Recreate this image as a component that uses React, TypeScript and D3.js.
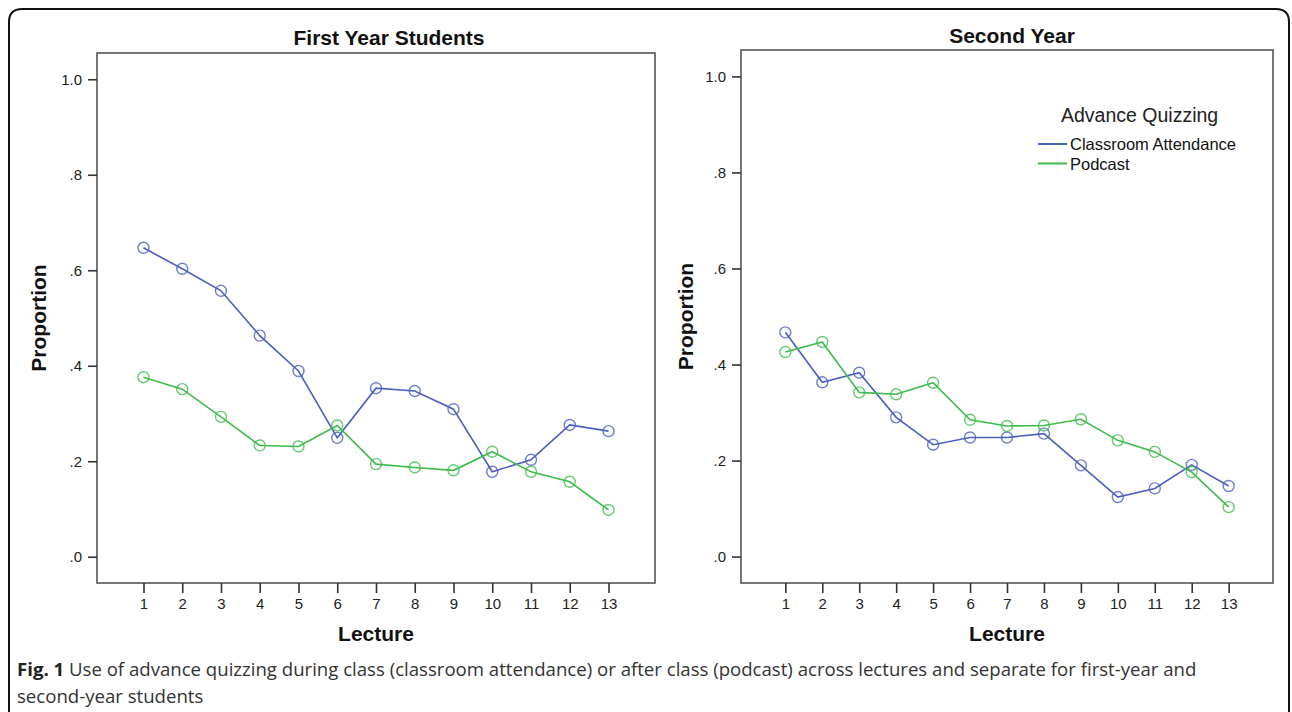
import { useEffect, useRef } from "react";
import * as d3 from "d3";

// lecture numbers on the x axis
const lectures = [1, 2, 3, 4, 5, 6, 7, 8, 9, 10, 11, 12, 13];

// proportions
const firstYearClassroom = [0.647, 0.603, 0.557, 0.463, 0.389, 0.249, 0.353, 0.347, 0.309, 0.178, 0.203, 0.276, 0.263];
const firstYearPodcast = [0.376, 0.351, 0.293, 0.233, 0.231, 0.275, 0.194, 0.187, 0.181, 0.22, 0.178, 0.157, 0.098];
const secondYearClassroom = [0.467, 0.363, 0.383, 0.29, 0.233, 0.248, 0.248, 0.256, 0.19, 0.124, 0.142, 0.191, 0.147];
const secondYearPodcast = [0.426, 0.447, 0.342, 0.338, 0.362, 0.285, 0.272, 0.273, 0.286, 0.242, 0.218, 0.176, 0.103];

const yTicks = [0, 0.2, 0.4, 0.6, 0.8, 1.0];
const yTickLabels = [".0", ".2", ".4", ".6", ".8", "1.0"];

const seriesNames = ["Classroom Attendance", "Podcast"];
const legendTitle = "Advance Quizzing";

const BLUE = "#4b5fbf";
const GREEN = "#3dbb4b";
const FONT = "'Liberation Sans', Arial, sans-serif";

export default function App() {
  const ref = useRef<SVGSVGElement>(null);

  useEffect(() => {
    if (!ref.current) return;
    const svg = d3.select(ref.current);
    svg.selectAll("*").remove();

    // outer frame of the figure
    svg
      .append("path")
      .attr("d", "M9,740 L9,22 Q9,9 22,9 L1276,9 Q1289,9 1289,22 L1289,740")
      .attr("fill", "none")
      .attr("stroke", "#111")
      .attr("stroke-width", 2);

    const panels = [
      {
        title: "First Year Students",
        left: 97, right: 655, top: 53, bottom: 583,
        titleX: 389, titleY: 45, propX: 45.5,
        classroom: firstYearClassroom, podcast: firstYearPodcast,
        legend: false,
      },
      {
        title: "Second Year",
        left: 741, right: 1273, top: 50, bottom: 583,
        titleX: 1012, titleY: 43, propX: 692.5,
        classroom: secondYearClassroom, podcast: secondYearPodcast,
        legend: true,
      },
    ];

    panels.forEach((p) => {
      const g = svg.append("g");

      const x = d3.scaleLinear().domain([-0.2, 14.2]).range([p.left, p.right]);
      const y = d3.scaleLinear().domain([-0.055, 1.055]).range([p.bottom, p.top]);

      // title
      g.append("text")
        .attr("x", p.titleX)
        .attr("y", p.titleY)
        .attr("text-anchor", "middle")
        .style("font-family", FONT)
        .style("font-size", "21px")
        .style("font-weight", "bold")
        .style("fill", "#111")
        .text(p.title);

      // plot frame
      g.append("rect")
        .attr("x", p.left)
        .attr("y", p.top)
        .attr("width", p.right - p.left)
        .attr("height", p.bottom - p.top)
        .attr("fill", "#fff")
        .attr("stroke", "#555")
        .attr("stroke-width", 1.6);

      // y axis ticks
      const yAxis = g
        .append("g")
        .attr("transform", `translate(${p.left},0)`)
        .call(
          d3
            .axisLeft(y)
            .tickValues(yTicks)
            .tickSize(9)
            .tickPadding(6)
            .tickFormat((_, i) => yTickLabels[i])
        );
      yAxis.select(".domain").remove();
      yAxis.selectAll("line").attr("stroke", "#333").attr("stroke-width", 1.6);
      yAxis
        .selectAll("text")
        .style("font-family", FONT)
        .style("font-size", "15px")
        .style("fill", "#222");

      // x axis ticks
      const xAxis = g
        .append("g")
        .attr("transform", `translate(0,${p.bottom})`)
        .call(
          d3
            .axisBottom(x)
            .tickValues(lectures)
            .tickSize(10)
            .tickPadding(5)
            .tickFormat(d3.format("d"))
        );
      xAxis.select(".domain").remove();
      xAxis.selectAll("line").attr("stroke", "#333").attr("stroke-width", 1.6);
      xAxis
        .selectAll("text")
        .style("font-family", FONT)
        .style("font-size", "15px")
        .style("fill", "#222");

      // axis titles
      g.append("text")
        .attr("x", (p.left + p.right) / 2)
        .attr("y", p.bottom + 58)
        .attr("text-anchor", "middle")
        .style("font-family", FONT)
        .style("font-size", "21px")
        .style("font-weight", "bold")
        .style("fill", "#111")
        .text("Lecture");

      g.append("text")
        .attr("transform", `translate(${p.propX},${(p.top + p.bottom) / 2}) rotate(-90)`)
        .attr("text-anchor", "middle")
        .style("font-family", FONT)
        .style("font-size", "21px")
        .style("font-weight", "bold")
        .style("fill", "#111")
        .text("Proportion");

      // lines and markers
      const series = [
        { values: p.classroom, color: BLUE },
        { values: p.podcast, color: GREEN },
      ];
      const line = d3
        .line<number>()
        .x((_, i) => x(lectures[i]))
        .y((d) => y(d));

      series.forEach((s) => {
        g.append("path")
          .datum(s.values)
          .attr("d", line)
          .attr("fill", "none")
          .attr("stroke", s.color)
          .attr("stroke-width", 1.6);

        g.selectAll(null)
          .data(s.values)
          .enter()
          .append("circle")
          .attr("cx", (_, i) => x(lectures[i]))
          .attr("cy", (d) => y(d))
          .attr("r", 5.5)
          .attr("fill", "none")
          .attr("stroke", s.color)
          .attr("stroke-opacity", 0.8)
          .attr("stroke-width", 1.4);
      });

      // legend (only on the second panel)
      if (p.legend) {
        g.append("text")
          .attr("x", 1061)
          .attr("y", 122)
          .style("font-family", FONT)
          .style("font-size", "19.5px")
          .style("fill", "#222")
          .text(legendTitle);

        [BLUE, GREEN].forEach((c, i) => {
          const ly = 144 + i * 19.5;
          g.append("line")
            .attr("x1", 1038)
            .attr("x2", 1067)
            .attr("y1", ly)
            .attr("y2", ly)
            .attr("stroke", c)
            .attr("stroke-width", 2);
          g.append("text")
            .attr("x", 1070)
            .attr("y", ly + 6)
            .style("font-family", FONT)
            .style("font-size", "16.5px")
            .style("fill", "#111")
            .text(seriesNames[i]);
        });
      }
    });

    // caption
    const caption = svg
      .append("text")
      .attr("x", 17)
      .attr("y", 676)
      .style("font-family", "'Open Sans', sans-serif")
      .style("font-size", "18.6px")
      .style("fill", "#333");
    caption
      .append("tspan")
      .style("font-weight", "bold")
      .style("fill", "#222")
      .text("Fig. 1");
    caption
      .append("tspan")
      .text(
        " Use of advance quizzing during class (classroom attendance) or after class (podcast) across lectures and separate for first-year and"
      );
    svg
      .append("text")
      .attr("x", 17)
      .attr("y", 703)
      .style("font-family", "'Open Sans', sans-serif")
      .style("font-size", "18.6px")
      .style("fill", "#333")
      .text("second-year students");
  }, []);

  return (
    <svg
      ref={ref}
      width={1292}
      height={712}
      style={{ position: "absolute", left: 0, top: 0, background: "#fff" }}
    />
  );
}
